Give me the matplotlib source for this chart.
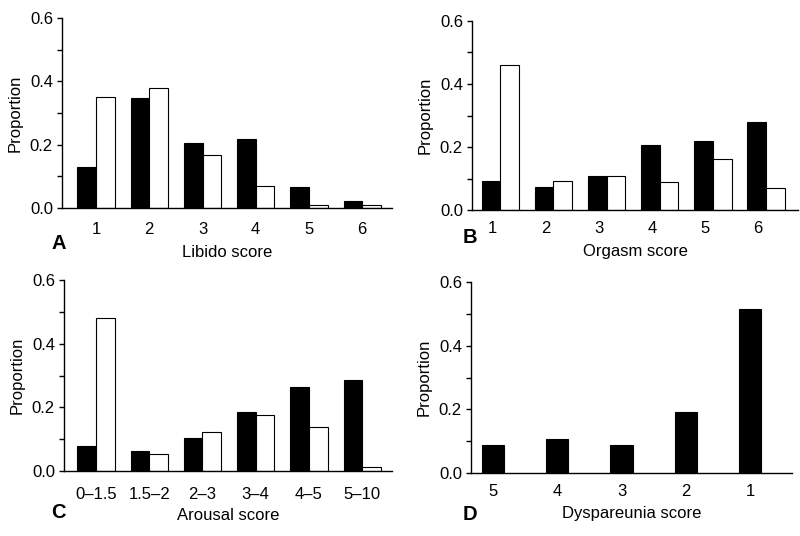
import matplotlib.pyplot as plt
from matplotlib.ticker import MultipleLocator

plt.rcParams['font.family'] = ['Liberation Sans', 'DejaVu Sans']

# Panel A - libido
libido_labels = ['1', '2', '3', '4', '5', '6']
libido_black = [0.13, 0.346, 0.205, 0.218, 0.066, 0.021]
libido_white = [0.35, 0.378, 0.167, 0.068, 0.011, 0.008]

# Panel B - orgasm
orgasm_labels = ['1', '2', '3', '4', '5', '6']
orgasm_black = [0.093, 0.074, 0.109, 0.206, 0.22, 0.278]
orgasm_white = [0.46, 0.091, 0.109, 0.09, 0.162, 0.069]

# Panel C - arousal
arousal_labels = ['0\u20131.5', '1.5\u20132', '2\u20133', '3\u20134', '4\u20135', '5\u201310']
arousal_black = [0.079, 0.063, 0.105, 0.185, 0.265, 0.286]
arousal_white = [0.482, 0.052, 0.121, 0.175, 0.139, 0.012]

# Panel D - dyspareunia
dysp_labels = ['5', '4', '3', '2', '1']
dysp_black = [0.087, 0.106, 0.089, 0.191, 0.515]

W, H = 800, 536
fs = 12
fig = plt.figure(figsize=(W / 100, H / 100), dpi=100)


def make_ax(left, right, top, bottom):
    return fig.add_axes([left / W, 1 - bottom / H, (right - left) / W, (bottom - top) / H])


def style(ax, labels, xlabel, xlim, tick_pad, label_pad, tick_shift=0.0):
    ax.set_ylim(0, 0.6)
    ax.set_xlim(*xlim)
    ax.spines['top'].set_visible(False)
    ax.spines['right'].set_visible(False)
    ax.spines['left'].set_linewidth(1.0)
    ax.spines['bottom'].set_linewidth(1.0)
    ax.yaxis.set_major_locator(MultipleLocator(0.2))
    ax.yaxis.set_minor_locator(MultipleLocator(0.1))
    ax.yaxis.set_major_formatter(plt.FuncFormatter(lambda v, p: '%.1f' % v))
    ax.tick_params(axis='y', which='both', direction='out', length=3.5, width=1, labelsize=fs, pad=3)
    ax.set_xticks([i + tick_shift for i in range(len(labels))])
    ax.set_xticklabels(labels)
    ax.tick_params(axis='x', length=0, labelsize=fs, pad=tick_pad)
    ax.set_ylabel('Proportion', fontsize=fs, labelpad=5)
    ax.set_xlabel(xlabel, fontsize=fs, labelpad=label_pad)


def letter(x, y, s):
    fig.text(x / W, 1 - y / H, s, fontsize=14.5, fontweight='bold', ha='center', va='center')


w = 0.35


def pair(ax, black, white):
    x = list(range(len(black)))
    ax.bar([i - w / 2 for i in x], black, width=w, color='black', edgecolor='black', linewidth=0.8)
    ax.bar([i + w / 2 for i in x], white, width=w, color='white', edgecolor='black', linewidth=0.8)


axA = make_ax(62, 392, 18, 208)
pair(axA, libido_black, libido_white)
style(axA, libido_labels, 'Libido score', (-0.64, 5.56), 10, 6)
letter(59, 243, 'A')

axB = make_ax(472, 798, 21, 210)
pair(axB, orgasm_black, orgasm_white)
style(axB, orgasm_labels, 'Orgasm score', (-0.53, 5.6), 8, 5.5, tick_shift=-0.15)
letter(470, 237, 'B')

axC = make_ax(64, 392, 280, 471)
pair(axC, arousal_black, arousal_white)
style(axC, arousal_labels, 'Arousal score', (-0.6, 5.56), 11.5, 4)
letter(58, 513, 'C')

axD = make_ax(471, 792, 282, 473)
axD.bar(range(len(dysp_black)), dysp_black, width=w, color='black', edgecolor='black', linewidth=0.8)
style(axD, dysp_labels, 'Dyspareunia score', (-0.34, 4.65), 8, 5)
letter(469.5, 514.5, 'D')

fig.savefig('out.png', dpi=100)
